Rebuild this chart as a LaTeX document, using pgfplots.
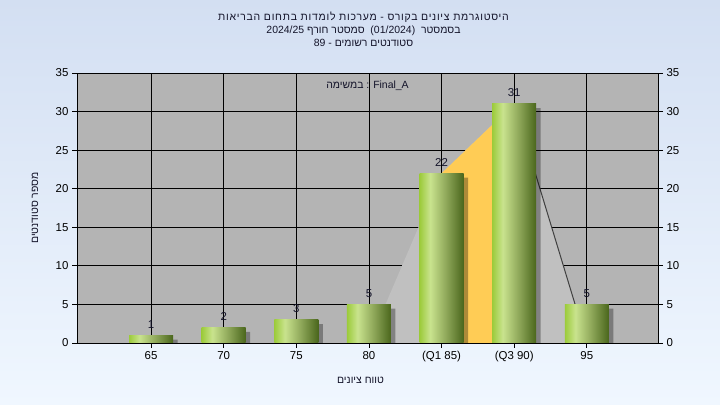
\documentclass[border=0pt]{standalone}
\usepackage{fontspec}
\setmainfont{Liberation Sans}
\newfontfamily\hebfont[Script=Hebrew]{Liberation Sans}
\newfontfamily\hebwide[Script=Hebrew, LetterSpace=7]{Liberation Sans}
\usepackage{pgfplots}
\pgfplotsset{compat=1.18}
\TeXXeTstate=1

\definecolor{bgtop}{HTML}{D3DFF2}
\definecolor{bgbot}{HTML}{F0F7FF}
\definecolor{plotbg}{HTML}{B4B4B4}
\definecolor{areagray}{HTML}{C0C0C0}
\definecolor{orangef}{HTML}{FFCC55}
\definecolor{barA}{HTML}{9CCB3B}
\definecolor{barB}{HTML}{C9E38E}
\definecolor{barM}{HTML}{8FA85A}
\definecolor{barC}{HTML}{4A661C}
\definecolor{txt}{HTML}{14142A}
\definecolor{linec}{HTML}{404040}

\pgfdeclarehorizontalshading{barshade}{100bp}{color(0bp)=(barA); color(25bp)=(barA); color(37bp)=(barB); color(55bp)=(barM); color(75bp)=(barC); color(100bp)=(barC)}

\newcommand{\tfont}{\fontsize{10.5}{13}\selectfont}
\newcommand{\kfont}{\fontsize{11.5}{13}\selectfont}

\pgfplotsset{
  greenbar/.style={ybar, bar width=44bp, bar shift=0bp, draw=none, shade, shading=barshade},
  shadowbar/.style={ybar, bar width=44bp, bar shift=4.5bp, fill=black, fill opacity=0.32, draw=none},
}

\begin{document}
\begin{tikzpicture}
\fill[top color=bgtop, bottom color=bgbot] (0,0) rectangle (720bp,405bp);
\begin{axis}[
  at={(77bp,62bp)}, anchor=south west,
  scale only axis, width=581bp, height=270bp,
  xmin=-1.02, xmax=6.98, ymin=0, ymax=35,
  xtick={0,...,6}, xticklabels={65,70,75,80,(Q1 85),(Q3 90),95},
  ytick={0,5,...,35},
  grid=major, major grid style={black, line width=0.9bp},
  axis background/.style={fill=plotbg},
  tick align=outside, major tick length=5bp,
  tick style={black, line width=0.9bp},
  axis line style={black, line width=0.9bp},
  ytick pos=left, xtick pos=bottom,
  tick label style={font=\kfont, black},
  /pgf/number format/assume math mode=true,
  xlabel={{\hebfont\beginR טווח ציונים\endR}},
  ylabel={{\hebfont\beginR מספר סטודנטים\endR}},
  every axis x label/.style={at={(axis description cs:0.5,0)}, xshift=-7bp, yshift=-37bp, anchor=center, font=\tfont, text=txt},
  every axis y label/.style={at={(axis description cs:0,0.5)}, xshift=-42bp, rotate=90, anchor=center, font=\tfont, text=txt},
  title={{\hebwide\beginR היסטוגרמת ציונים בקורס - מערכות לומדות בתחום הבריאות\endR}\\
         {\hebfont\beginR בסמסטר~ \beginL(01/2024)\endL{}~ סמסטר חורף \beginL2024/25\endL\endR}\\
         {\hebfont\beginR סטודנטים רשומים - \beginL89\endL\endR}},
  title style={at={(axis description cs:0.5,1)}, xshift=-4bp, yshift=38bp, anchor=center, align=center, font=\tfont, text=txt},
]
\addplot[fill=areagray, draw=none] coordinates {(3,0) (4,22) (5,31) (6,0)} \closedcycle;
\addplot[fill=orangef, draw=none] coordinates {(4,0) (4,22) (5,31) (5,0)} \closedcycle;
\addplot[color=linec, line width=1bp] coordinates {(5,31) (6,0)};
\addplot[shadowbar] coordinates {(0,0.45) (1,1.45) (2,2.45) (3,4.45) (4,21.45) (5,30.45) (6,4.45)};
\addplot[greenbar] coordinates {(0,1)};
\addplot[greenbar] coordinates {(1,2)};
\addplot[greenbar] coordinates {(2,3)};
\addplot[greenbar] coordinates {(3,5)};
\addplot[greenbar] coordinates {(4,22)};
\addplot[greenbar] coordinates {(5,31)};
\addplot[greenbar] coordinates {(6,5)};
\addplot[draw=none, mark=none, nodes near coords,
  every node near coord/.append style={font=\kfont, text=txt, anchor=base, yshift=7bp, inner sep=0pt}]
  coordinates {(0,1) (1,2) (2,3) (3,5) (4,22) (5,31) (6,5)};
\node[font=\tfont, text=txt] at (axis description cs:0.5,0.953) {{\hebfont\beginR במשימה\endR} : Final\_A};
\end{axis}
\begin{axis}[
  at={(77bp,62bp)}, anchor=south west,
  scale only axis, width=581bp, height=270bp,
  xmin=-1.02, xmax=6.98, ymin=0, ymax=35,
  hide x axis, axis y line*=right,
  ytick={0,5,...,35},
  tick align=outside, major tick length=5bp,
  tick style={black, line width=0.9bp},
  axis line style={black, line width=0.9bp},
  tick label style={font=\kfont, black},
  /pgf/number format/assume math mode=true,
]
\addplot[draw=none] coordinates {(0,0)};
\end{axis}
\end{tikzpicture}
\end{document}
